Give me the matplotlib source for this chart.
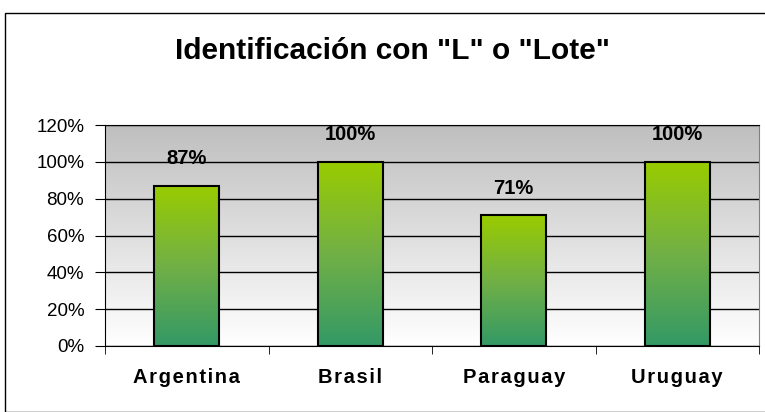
import numpy as np
import matplotlib
matplotlib.use("Agg")
import matplotlib.pyplot as plt
from matplotlib.colors import LinearSegmentedColormap
from matplotlib.patches import Rectangle

paises = ["Argentina", "Brasil", "Paraguay", "Uruguay"]
valores = [87, 100, 71, 100]
etiquetas = ["87%", "100%", "71%", "100%"]
yticks = [0, 20, 40, 60, 80, 100, 120]

plt.rcParams['font.family'] = ['Liberation Sans', 'DejaVu Sans']

fig = plt.figure(figsize=(7.65, 4.12), dpi=100)
ax = fig.add_axes([105/765, 1-346/412, (759-105)/765, (346-125)/412])

# marco exterior del grafico
fig.patches.append(Rectangle((5/765, 0.5/412), 1, 1-13.5/412, transform=fig.transFigure,
                             fill=False, edgecolor="black", linewidth=1))

# fondo degradado gris -> blanco
fondo = LinearSegmentedColormap.from_list("fondo", ["#ffffff", "#bfbfbf"])
grad = np.linspace(0, 1, 256).reshape(-1, 1)
ax.imshow(grad, cmap=fondo, origin="lower", aspect="auto",
          extent=[-0.5, 3.5, 0, 120], zorder=0)

verde = LinearSegmentedColormap.from_list("verde", ["#339966", "#72b046", "#99cc00"])
x = np.arange(len(paises))
barras = ax.bar(x, valores, width=0.40, facecolor="none", edgecolor="black",
                linewidth=1.5, zorder=3)
for b, v in zip(barras, valores):
    img = ax.imshow(grad, cmap=verde, origin="lower", aspect="auto",
                    extent=[b.get_x(), b.get_x() + b.get_width(), 0, v], zorder=2)
    img.set_clip_path(b)

for xi, v, t in zip(x, valores, etiquetas):
    ax.annotate(t, (xi, v), xytext=(0, 19.5), textcoords="offset points",
                ha="center", va="center", fontsize=14.5, fontweight="bold")

ax.set_xlim(-0.5, 3.5)
ax.set_ylim(0, 120)
ax.set_yticks(yticks)
ax.set_yticklabels([f"{t}%" for t in yticks], fontsize=13.5)
ax.yaxis.grid(True, color="black", linewidth=1, zorder=1)
ax.set_axisbelow(True)

# etiquetas con espaciado entre letras
ax.set_xticks(x)
ax.set_xticklabels(["\u200a".join(p) for p in paises], fontsize=14.5, fontweight="bold")
ax.tick_params(axis="x", length=0, pad=16)
ax.set_xticks(np.arange(-0.5, 4, 1), minor=True)
ax.tick_params(axis="x", which="minor", length=6, direction="out")
ax.tick_params(axis="y", length=7, direction="out", pad=8)

for s in ["left", "bottom", "top"]:
    ax.spines[s].set_color("black")
ax.spines["right"].set_color("#808080")

fig.text(393/765, 1-59/412, 'Identificación con "L" o "Lote"', ha="center", va="baseline",
         fontsize=21.5, fontweight="bold")

fig.savefig("out.png", dpi=100)
